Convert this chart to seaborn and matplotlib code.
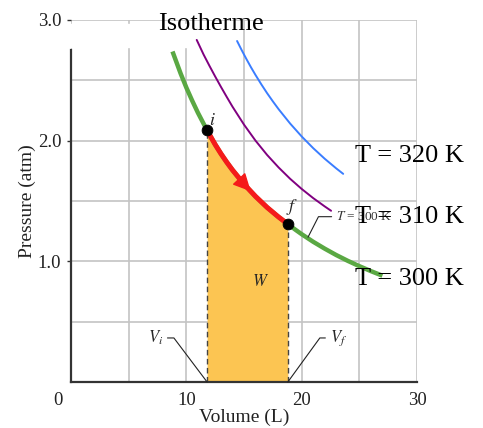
import matplotlib
matplotlib.use("Agg")
import matplotlib.pyplot as plt
import matplotlib.transforms as mtransforms
import seaborn as sns

# isotherm T = 300 K (original textbook curve), volume in L, pressure in atm
V_300 = [8.8, 9.5, 10.0, 10.5, 11.0, 11.8, 12.5, 13.0, 13.5, 14.0, 15.0, 16.0,
         17.0, 18.0, 18.8, 19.5, 20.0, 21.0, 22.0, 23.0, 24.0, 25.0, 26.0, 27.0]
P_300 = [2.739, 2.558, 2.440, 2.333, 2.232, 2.085, 1.968, 1.892, 1.822, 1.757,
         1.640, 1.538, 1.447, 1.367, 1.309, 1.259, 1.225, 1.162, 1.105, 1.052,
         1.004, 0.960, 0.919, 0.881]

# isotherms T = 310 K and T = 320 K
V_310 = [10.9, 11.5, 12.0, 12.5, 13.0, 13.5, 14.0, 15.0, 16.0, 17.0, 18.0, 19.0,
         20.0, 21.0, 22.0, 22.55]
P_310 = [2.835, 2.713, 2.621, 2.532, 2.446, 2.363, 2.282, 2.133, 2.000, 1.882,
         1.778, 1.684, 1.600, 1.524, 1.455, 1.419]
V_320 = [14.4, 14.8, 15.2, 15.6, 16.0, 16.5, 17.0, 17.5, 18.0, 19.0, 20.0, 21.0,
         22.0, 23.0, 23.6]
P_320 = [2.826, 2.750, 2.678, 2.609, 2.544, 2.467, 2.394, 2.326, 2.261, 2.142,
         2.035, 1.938, 1.850, 1.770, 1.725]

# states i and f (indices into the 300 K curve)
i_idx, f_idx = 5, 14

x_ticks = [0, 10, 20, 30]
y_ticks = [1.0, 2.0, 3.0]
y_ticklabels = ["1.0", "2.0", "3.0"]
iso_labels = ["T = 320 K", "T = 310 K", "T = 300 K"]

GREEN = "#5aa843"
RED = "#f51a1a"
ORANGE = "#fcc552"
PURPLE = "#800080"
BLUE = "#3a7dff"

sns.set_theme(style="whitegrid")
plt.rcParams["font.family"] = ["Liberation Serif", "DejaVu Serif"]
plt.rcParams["mathtext.fontset"] = "stix"

fig = plt.figure(figsize=(4.83, 4.28), dpi=100)
ax = fig.add_axes([71 / 483, 46 / 428, 346 / 483, 362 / 428])
ax.set_facecolor("white")
ax.set_axisbelow(True)

Vi, Pi = V_300[i_idx], P_300[i_idx]
Vf, Pf = V_300[f_idx], P_300[f_idx]
V_seg = V_300[i_idx:f_idx + 1]
P_seg = P_300[i_idx:f_idx + 1]

# work area
ax.fill_between(V_seg, P_seg, color=ORANGE, linewidth=0, zorder=2)
ax.vlines([Vi, Vf], 0, [Pi, Pf], colors="#444444", linestyles=(0, (4, 2.5)),
          linewidth=1.0, zorder=2.2)

sns.lineplot(x=V_300, y=P_300, color=GREEN, linewidth=3.2, ax=ax, zorder=3,
             errorbar=None, solid_capstyle="butt")
sns.lineplot(x=V_310, y=P_310, color=PURPLE, linewidth=1.4, ax=ax, zorder=3,
             errorbar=None)
sns.lineplot(x=V_320, y=P_320, color=BLUE, linewidth=1.4, ax=ax, zorder=3,
             errorbar=None)
sns.lineplot(x=V_seg, y=P_seg, color=RED, linewidth=3.6, ax=ax, zorder=4,
             errorbar=None, solid_capstyle="butt")

# direction arrow on the red path
ax.annotate("", xy=(V_300[11], P_300[11]), xytext=(V_300[10], P_300[10]),
            arrowprops=dict(arrowstyle="-|>,head_length=0.85,head_width=0.42",
                            color=RED, lw=1, mutation_scale=13, shrinkB=5),
            zorder=4.5)

sns.scatterplot(x=[Vi, Vf], y=[Pi, Pf], color="black", s=60, edgecolor="black",
                ax=ax, zorder=5)

# axes styling
ax.set_xlim(0, 30)
ax.set_ylim(0, 3.0)
ax.set_xticks(x_ticks)
ax.set_xticks([5, 15, 25], minor=True)
ax.set_yticks(y_ticks)
ax.set_yticklabels(y_ticklabels)
ax.set_yticks([0.5, 1.5, 2.5], minor=True)
ax.grid(True, which="both", color="#c4c4c4", linewidth=1.2)
ax.tick_params(axis="x", which="major", length=0, pad=7, labelsize=13.5,
               labelcolor="#222222")
ax.tick_params(axis="y", which="major", length=3, width=1, color="#333333",
               pad=4, labelsize=13.5, labelcolor="#222222", left=True)
ax.tick_params(which="minor", length=0)
for side in ["top", "right"]:
    ax.spines[side].set_visible(False)
for side in ["left", "bottom"]:
    ax.spines[side].set_color("#333333")
    ax.spines[side].set_linewidth(1.6)
ax.spines["left"].set_bounds(0, 2.75)

# white patch of the scanned figure under the title
ax.axhspan(2.78, 2.965, xmin=-0.01, xmax=0.40, color="white", zorder=1)

shift = mtransforms.ScaledTranslation(-13 / 100, 0, fig.dpi_scale_trans)
zero_lbl = ax.get_xticklabels()[0]
zero_lbl.set_transform(zero_lbl.get_transform() + shift)

ax.set_xlabel("Volume (L)", fontsize=14, labelpad=0, color="#222222")
ax.set_ylabel("Pressure (atm)", fontsize=14, labelpad=1, color="#222222")

ax.text(0.405, 0.972, "Isotherme", transform=ax.transAxes, ha="center",
        va="baseline", fontsize=19, color="black", zorder=6)

# labels from the textbook figure
ax.text(Vi + 0.5, Pi + 0.08, "$i$", fontsize=13, ha="center", va="center")
ax.text(Vf + 0.4, Pf + 0.14, "$f$", fontsize=13, ha="center", va="center")
ax.text(16.4, 0.83, "$W$", fontsize=12, ha="center", va="center")
ax.annotate("$V_i$", xy=(Vi, 0), xytext=(7.3, 0.365), fontsize=12,
            ha="center", va="center",
            arrowprops=dict(arrowstyle="-", color="#222222", lw=0.8,
                            connectionstyle="angle,angleA=0,angleB=127",
                            shrinkA=1, shrinkB=0))
ax.annotate("$V_f$", xy=(Vf, 0), xytext=(23.2, 0.365), fontsize=12,
            ha="center", va="center",
            arrowprops=dict(arrowstyle="-", color="#222222", lw=0.8,
                            connectionstyle="angle,angleA=0,angleB=54",
                            shrinkA=1, shrinkB=0))
ax.annotate("$T$ = 300 K", xy=(20.55, 1.2), xytext=(23.0, 1.37), fontsize=9.5,
            ha="left", va="center", color="#333333",
            arrowprops=dict(arrowstyle="-", color="#222222", lw=0.8,
                            connectionstyle="angle,angleA=0,angleB=63",
                            shrinkA=1, shrinkB=0))

# isotherm labels
for lbl, p in zip(iso_labels, [1.82, 1.32, 0.80]):
    ax.text(24.6, p, lbl, fontsize=19, ha="left", va="baseline",
            color="black", zorder=6)

fig.savefig("out.png", dpi=100)
